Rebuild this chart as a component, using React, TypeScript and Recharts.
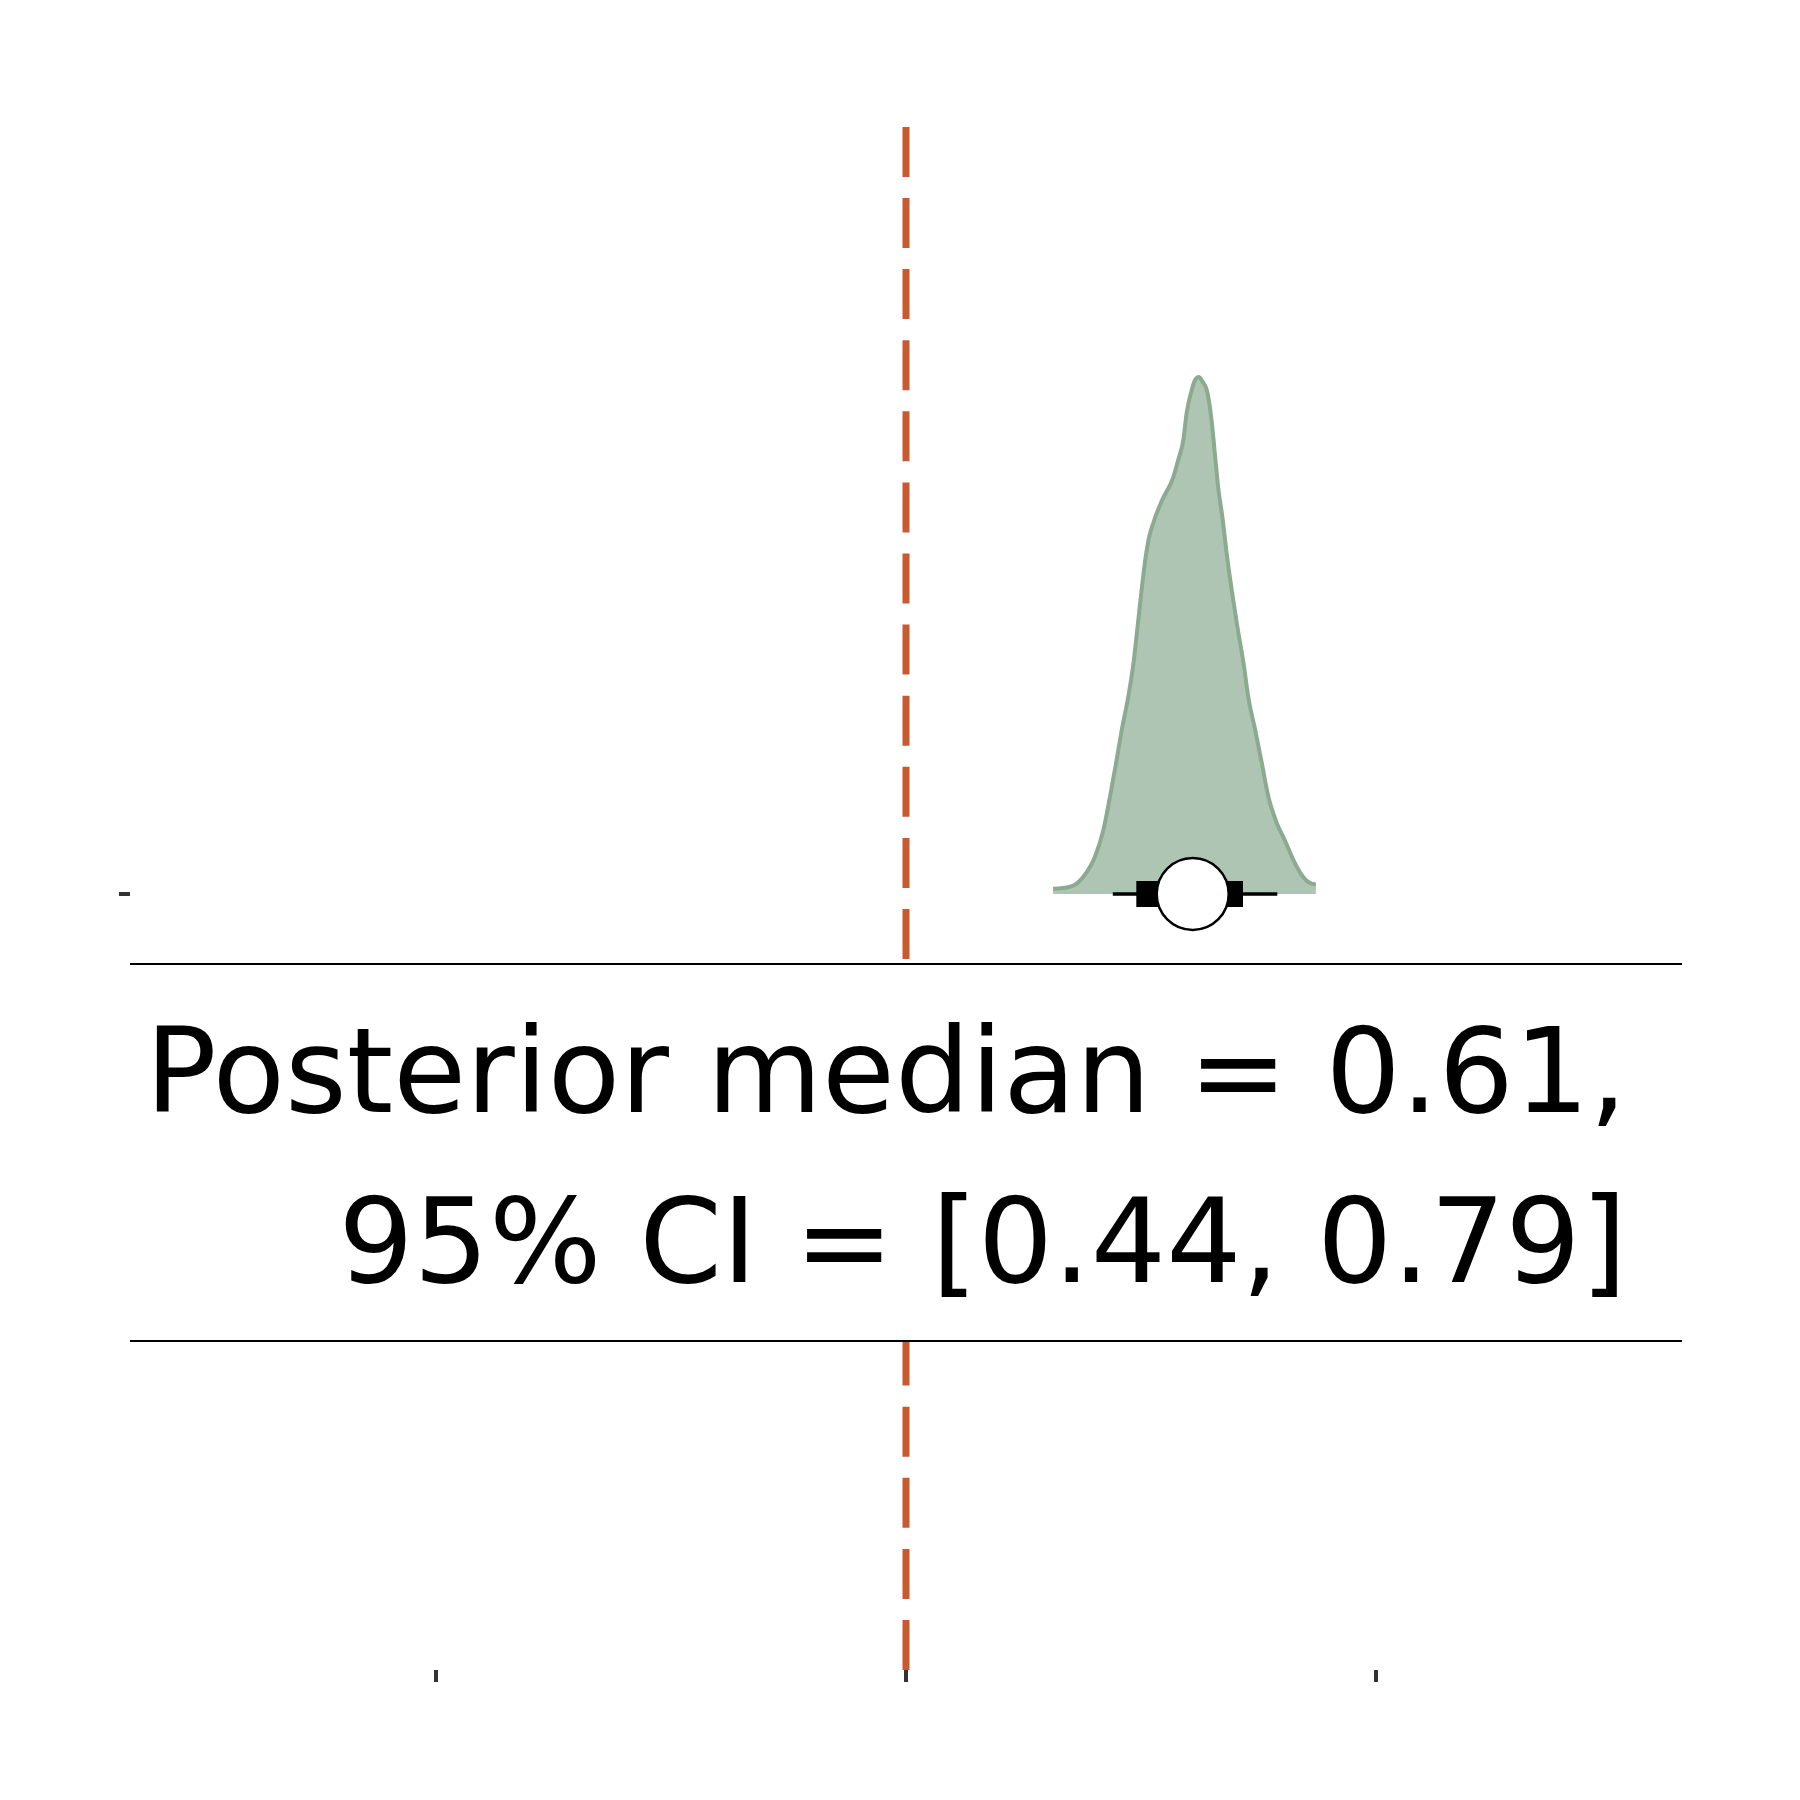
import React from "react";
import {
    ComposedChart, Area, Line, Scatter, XAxis, YAxis, ReferenceLine, ReferenceArea
} from "recharts";

// posterior density (normalised so the peak = 1)
const densityX = [0.313, 0.349, 0.377, 0.402, 0.420, 0.434, 0.447, 0.459, 0.473, 0.484, 0.492, 0.502, 0.509, 0.516, 0.527, 0.545, 0.569, 0.579, 0.590, 0.597, 0.608, 0.615, 0.623, 0.630, 0.640, 0.650, 0.657, 0.664, 0.674, 0.682, 0.693, 0.705, 0.718, 0.728, 0.743, 0.757, 0.771, 0.789, 0.806, 0.824, 0.845, 0.870, 0.872];
const densityY = [0.010, 0.014, 0.033, 0.072, 0.124, 0.188, 0.253, 0.317, 0.382, 0.447, 0.511, 0.594, 0.646, 0.685, 0.720, 0.762, 0.807, 0.839, 0.878, 0.930, 0.975, 0.994, 1.0, 0.992, 0.975, 0.917, 0.853, 0.788, 0.723, 0.660, 0.588, 0.517, 0.447, 0.382, 0.317, 0.253, 0.188, 0.137, 0.104, 0.066, 0.033, 0.019, 0.019];

// point interval
const median = 0.61;
const ci66 = [0.49, 0.717];
const ci95 = [0.44, 0.79];

const xTicks = [-1, 0, 1];
const yTicks = [0];
const nullValue = 0;

const summaryLines = ["Posterior median = 0.61,", "95% CI = [0.44, 0.79]"];

const densityData = densityX.map((x, i) => ({ x, y: densityY[i] }));
const thinData = ci95.map(x => ({ x, y: 0 }));
const thickData = ci66.map(x => ({ x, y: 0 }));
const medianData = [{ x: median, y: 0 }];

const FONT = "'DejaVu Sans', sans-serif";

// white label box with rules above and below
const SummaryBox = (p: any) => (
    <g>
        <rect x={p.x} y={p.y} width={p.width} height={p.height} fill="#ffffff" />
        <line x1={p.x} x2={p.x + p.width} y1={p.y} y2={p.y} stroke="#000" strokeWidth={2} />
        <line x1={p.x} x2={p.x + p.width} y1={p.y + p.height} y2={p.y + p.height} stroke="#000" strokeWidth={2} />
        {summaryLines.map((t, i) => (
            <text key={i} x={p.x + p.width - 55} y={p.y + 148 + i * 170} textAnchor="end"
                fontFamily={FONT} fontSize={118.5} fill="#000">{t}</text>
        ))}
    </g>
);

const MedianDot = (p: any) => (
    <circle cx={p.cx} cy={p.cy} r={36} fill="#ffffff" stroke="#000" strokeWidth={2.5} />
);

export default function App() {
    return (
        <div style={{ position: "absolute", left: 0, top: 0, width: 1800, height: 1800, background: "#fff" }}>
            <ComposedChart width={1800} height={1800} data={densityData}
                margin={{ top: 126, right: 118, left: 0, bottom: 0 }}>
                <XAxis dataKey="x" type="number" domain={[-1.651, 1.651]} allowDataOverflow
                    ticks={xTicks} tickFormatter={() => ""} height={130} axisLine={false}
                    tickSize={12} tickLine={{ stroke: "#333333", strokeWidth: 4 }} />
                <YAxis type="number" domain={[-1.501, 1.4855]} allowDataOverflow
                    ticks={yTicks} tickFormatter={() => ""} width={130} axisLine={false}
                    tickSize={11} tickLine={{ stroke: "#333333", strokeWidth: 4 }} />
                <ReferenceLine x={nullValue} stroke="#C95A30" strokeWidth={7}
                    strokeDasharray="50 21.1" zIndex={50} />
                <ReferenceArea y1={-0.8646} y2={-0.1354} shape={SummaryBox} zIndex={450} />
                <Area dataKey="y" type="monotone" baseValue={0} fill="#AFC5B3" fillOpacity={1}
                    stroke="#8BAA8F" strokeWidth={4} isAnimationActive={false} />
                <Line data={thinData} dataKey="y" stroke="#000" strokeWidth={3.5} dot={false}
                    isAnimationActive={false} />
                <Line data={thickData} dataKey="y" stroke="#000" strokeWidth={26} strokeLinecap="butt"
                    dot={false} isAnimationActive={false} />
                <Scatter data={medianData} dataKey="y" shape={MedianDot} isAnimationActive={false} />
            </ComposedChart>
        </div>
    );
}
